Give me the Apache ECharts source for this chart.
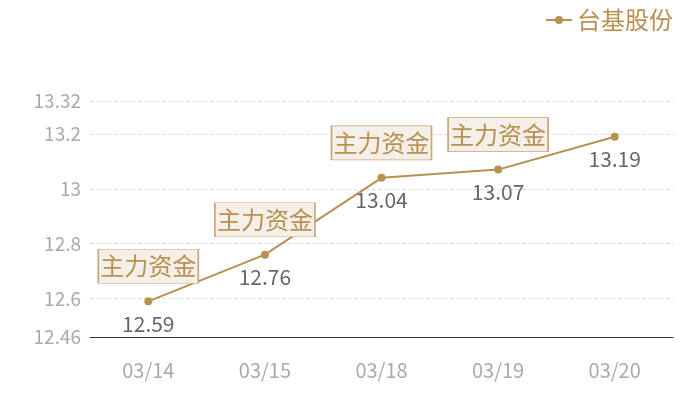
<!DOCTYPE html>
<html>
<head>
<meta charset="utf-8">
<style>
    html, body { margin: 0; padding: 0; background: #fff; }
    #chart { width: 700px; height: 400px; }
</style>
</head>
<body>
<div id="chart"></div>
<script src="https://cdn.jsdelivr.net/npm/echarts@6/dist/echarts.min.js"></script>
<script>
    var dates = ['03/14', '03/15', '03/18', '03/19', '03/20']
    var prices = [12.59, 12.76, 13.04, 13.07, 13.19]
    var yTicks = [12.46, 12.6, 12.8, 13, 13.2, 13.32]
    var flagIndex = [0, 1, 2, 3]
    var flagText = '主力资金'
    var seriesName = '台基股份'

    var gold = '#b8904f'
    var font = '"Noto Sans CJK SC", "Noto Sans", sans-serif'

    var flags = []
    for (var i = 0; i < flagIndex.length; i++) {
        flags.push({ coord: [flagIndex[i], prices[flagIndex[i]]] })
    }

    var myChart = echarts.init(document.getElementById('chart'))
    var option = {
        textStyle: { fontFamily: font },
        legend: {
            right: 22,
            top: 3,
            itemWidth: 26,
            itemHeight: 10,
            itemGap: 6,
            textStyle: { color: gold, fontSize: 24, fontFamily: font },
            data: [seriesName]
        },
        grid: { left: 90, right: 27, top: 101, bottom: 63 },
        xAxis: {
            type: 'category',
            data: dates,
            axisLine: { lineStyle: { color: '#333' } },
            axisTick: { show: false },
            axisLabel: { color: '#aaa', fontSize: 20, margin: 23, fontFamily: font }
        },
        yAxis: {
            type: 'value',
            min: yTicks[0],
            max: yTicks[yTicks.length - 1],
            axisLine: { show: false },
            axisTick: { show: false, customValues: yTicks },
            axisLabel: { color: '#aaa', fontSize: 19, margin: 9, customValues: yTicks, fontFamily: font },
            splitLine: { lineStyle: { color: '#ddd', type: 'dashed' } }
        },
        series: [
            {
                name: seriesName,
                type: 'line',
                data: prices,
                symbol: 'circle',
                symbolSize: 8,
                itemStyle: { color: gold },
                lineStyle: { color: gold, width: 2 },
                label: {
                    show: true,
                    position: 'bottom',
                    distance: 8,
                    color: '#666',
                    fontSize: 21,
                    fontFamily: font
                },
                markPoint: {
                    symbol: 'rect',
                    symbolSize: [100, 34],
                    symbolOffset: [0, -35],
                    itemStyle: { color: '#f4efe8', borderColor: '#c9a876', borderWidth: 1 },
                    label: {
                        show: true,
                        formatter: flagText,
                        color: gold,
                        fontSize: 24,
                        fontFamily: font
                    },
                    data: flags
                },
                animation: false
            }
        ]
    }
    myChart.setOption(option)
</script>
</body>
</html>
